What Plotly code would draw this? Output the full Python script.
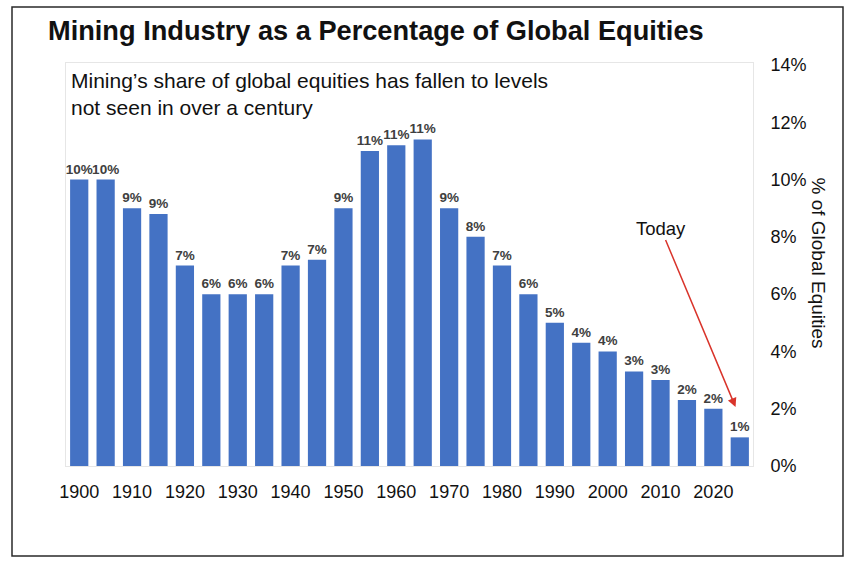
import plotly.graph_objects as go

# mining share of global equities, 5-year steps
years = list(range(1900, 2030, 5))
share = [10.0, 10.0, 9.0, 8.8, 7.0, 6.0, 6.0, 6.0, 7.0, 7.2, 9.0, 11.0, 11.2, 11.4,
         9.0, 8.0, 7.0, 6.0, 5.0, 4.3, 4.0, 3.3, 3.0, 2.3, 2.0, 1.0]
share_labels = ["10%", "10%", "9%", "9%", "7%", "6%", "6%", "6%", "7%", "7%", "9%", "11%", "11%", "11%",
                "9%", "8%", "7%", "6%", "5%", "4%", "4%", "3%", "3%", "2%", "2%", "1%"]
year_ticks = list(range(1900, 2030, 10))
pct_ticks = [0, 2, 4, 6, 8, 10, 12, 14]

FONT = "Liberation Sans, Arial, sans-serif"
BAR_BLUE = "#4472C4"
ARROW_RED = "#D9342B"

W, H = 857, 568
ML, MT, MR, MB = 66, 63, 104, 102


def px_x(x):
    # window pixel -> paper x
    return (x - ML) / (W - ML - MR)


def px_y(y):
    # window pixel -> paper y
    return (H - MB - y) / (H - MT - MB)


fig = go.Figure()
fig.add_trace(
    go.Bar(
        x=years,
        y=share,
        text=share_labels,
        textposition="outside",
        constraintext="none",
        cliponaxis=False,
        textfont=dict(family=FONT, size=13.5, color="#404040", weight="bold"),
        marker=dict(color=BAR_BLUE, line=dict(width=0)),
        hoverinfo="x+y",
    )
)

fig.update_layout(
    width=W,
    height=H,
    margin=dict(l=ML, r=MR, t=MT, b=MB),
    paper_bgcolor="white",
    plot_bgcolor="white",
    bargap=0.31,
    showlegend=False,
    font=dict(family=FONT, color="#111111"),
    title=dict(
        text="<b>Mining Industry as a Percentage of Global Equities</b>",
        x=48 / W,
        xanchor="left",
        xref="container",
        y=1 - 30 / H,
        yanchor="middle",
        yref="container",
        font=dict(family=FONT, size=27.2, color="#111111"),
    ),
)

fig.update_xaxes(
    range=[1897.5, 2027.5],
    tickvals=year_ticks,
    ticktext=[str(y) for y in year_ticks],
    tickfont=dict(family=FONT, size=18, color="#111111"),
    showgrid=False,
    zeroline=False,
    showline=True,
    linecolor="#e6e6e6",
    mirror=True,
    ticks="",
    ticklabelstandoff=9,
)
fig.update_yaxes(
    range=[0, 14.07],
    side="right",
    tickvals=pct_ticks,
    ticktext=[f"{v}%" for v in pct_ticks],
    tickfont=dict(family=FONT, size=18, color="#111111"),
    showgrid=False,
    zeroline=False,
    showline=True,
    linecolor="#e6e6e6",
    mirror=True,
    ticks="",
    ticklabelstandoff=13,
)

# subtitle inside the plot area
fig.add_annotation(
    text="Mining’s share of global equities has fallen to levels<br>not seen in over a century",
    xref="paper", yref="paper",
    x=px_x(69), y=px_y(93.5),
    xanchor="left", yanchor="middle", align="left",
    showarrow=False,
    font=dict(family=FONT, size=21, color="#111111"),
)

# right-hand axis title, reading top to bottom
fig.add_annotation(
    text="% of Global Equities",
    xref="paper", yref="paper",
    x=px_x(818), y=px_y(262.5),
    xanchor="center", yanchor="middle",
    textangle=90,
    showarrow=False,
    font=dict(family=FONT, size=19, color="#111111"),
)

# "Today" callout pointing at the last bar
fig.add_annotation(
    text="Today",
    x=years[-1] - 0.8, y=share[-1] + 1.06,
    ax=-75, ay=-179,
    showarrow=True,
    arrowhead=2, arrowsize=1.2, arrowwidth=1.5, arrowcolor=ARROW_RED,
    font=dict(family=FONT, size=18.5, color="#111111"),
)

# outer frame around the whole picture
fig.add_shape(
    type="rect", xref="paper", yref="paper",
    x0=px_x(12), x1=px_x(843),
    y0=px_y(556), y1=px_y(7),
    line=dict(color="#2a2a2a", width=1.5),
    fillcolor="rgba(0,0,0,0)",
)

# drop the default page margin so the figure fills the window exactly
fig.write_html(
    "out.html",
    config={"displayModeBar": False},
    post_script="document.body.style.margin='0px';document.body.style.overflow='hidden';",
)
